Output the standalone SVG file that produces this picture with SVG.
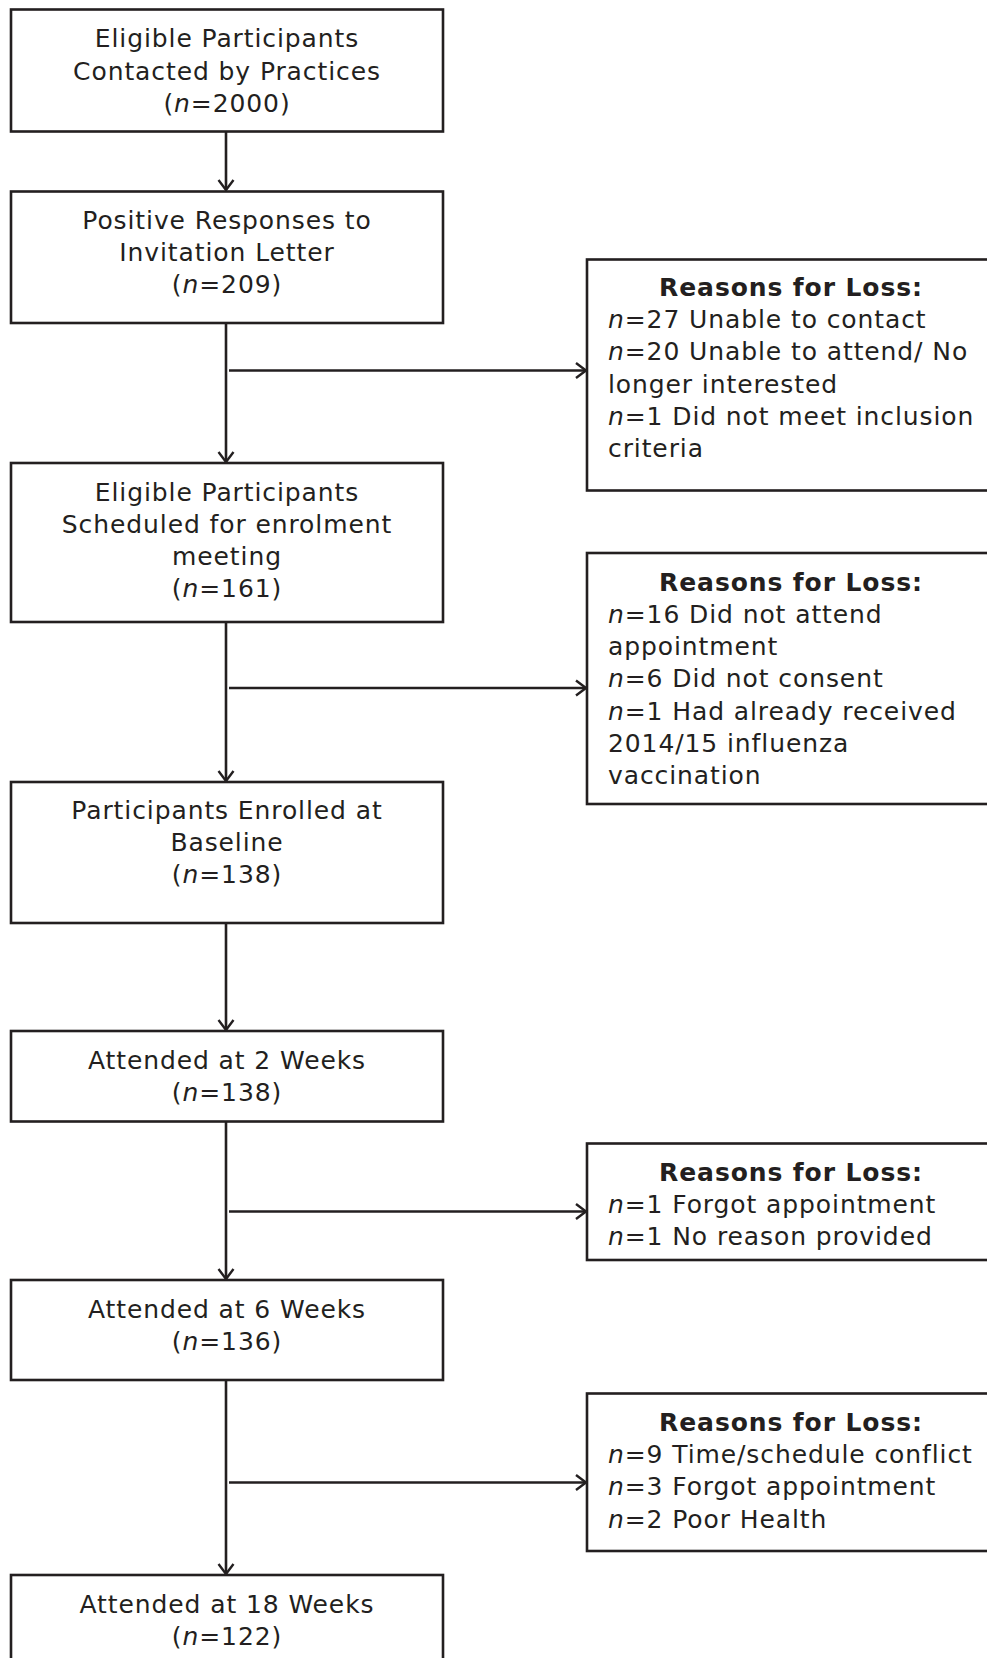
<svg xmlns="http://www.w3.org/2000/svg" width="987" height="1658" viewBox="0 0 987 1658">
<style>
.box{fill:#fff;stroke:#231f20;stroke-width:2.6}
.t{font-family:"DejaVu Sans",Verdana,sans-serif;font-size:25px;letter-spacing:0.9px;fill:#231f20}
.c{text-anchor:middle}
.b{font-weight:bold}
.i{font-style:italic}
.ln{stroke:#231f20;stroke-width:2.6;fill:none}
</style>
<defs>
<marker id="ah" markerUnits="userSpaceOnUse" viewBox="-12 -9 14 18" refX="0" refY="0" markerWidth="14" markerHeight="18" orient="auto">
<path d="M-10,-7.5 L0,0 L-10,7.5" fill="none" stroke="#231f20" stroke-width="2.4"/>
</marker>
</defs>
<rect width="987" height="1658" fill="#fff"/>
<g id="connectors">
<line class="ln" x1="226" y1="132" x2="226" y2="190" marker-end="url(#ah)"/>
<line class="ln" x1="226" y1="323" x2="226" y2="462" marker-end="url(#ah)"/>
<line class="ln" x1="226" y1="622" x2="226" y2="781" marker-end="url(#ah)"/>
<line class="ln" x1="226" y1="923" x2="226" y2="1030" marker-end="url(#ah)"/>
<line class="ln" x1="226" y1="1121" x2="226" y2="1279" marker-end="url(#ah)"/>
<line class="ln" x1="226" y1="1380" x2="226" y2="1574" marker-end="url(#ah)"/>
<line class="ln" x1="229" y1="370.5" x2="586" y2="370.5" marker-end="url(#ah)"/>
<line class="ln" x1="229" y1="688" x2="586" y2="688" marker-end="url(#ah)"/>
<line class="ln" x1="229" y1="1211.5" x2="586" y2="1211.5" marker-end="url(#ah)"/>
<line class="ln" x1="229" y1="1482.5" x2="586" y2="1482.5" marker-end="url(#ah)"/>
</g>
<g id="n1">
<rect class="box" x="11" y="9.5" width="432" height="122"/>
<text class="t c" x="227" y="47">Eligible Participants</text>
<text class="t c" x="227" y="79.5">Contacted by Practices</text>
<text class="t c" x="227" y="111.5">(<tspan class="i">n</tspan>=2000)</text>
</g>
<g id="n2">
<rect class="box" x="11" y="191.5" width="432" height="131.5"/>
<text class="t c" x="227" y="229">Positive Responses to</text>
<text class="t c" x="227" y="261">Invitation Letter</text>
<text class="t c" x="227" y="293">(<tspan class="i">n</tspan>=209)</text>
</g>
<g id="r1">
<rect class="box" x="587" y="259.5" width="420" height="231"/>
<text class="t c b" x="791" y="295.7">Reasons for Loss:</text>
<text class="t" x="608" y="328"><tspan class="i">n</tspan>=27 Unable to contact</text>
<text class="t" x="608" y="360.3"><tspan class="i">n</tspan>=20 Unable to attend/ No</text>
<text class="t" x="608" y="392.5">longer interested</text>
<text class="t" x="608" y="424.8"><tspan class="i">n</tspan>=1 Did not meet inclusion</text>
<text class="t" x="608" y="457">criteria</text>
</g>
<g id="n3">
<rect class="box" x="11" y="463" width="432" height="159"/>
<text class="t c" x="227" y="500.7">Eligible Participants</text>
<text class="t c" x="227" y="532.9">Scheduled for enrolment</text>
<text class="t c" x="227" y="565.1">meeting</text>
<text class="t c" x="227" y="597.3">(<tspan class="i">n</tspan>=161)</text>
</g>
<g id="r2">
<rect class="box" x="587" y="553" width="420" height="251"/>
<text class="t c b" x="791" y="590.7">Reasons for Loss:</text>
<text class="t" x="608" y="622.9"><tspan class="i">n</tspan>=16 Did not attend</text>
<text class="t" x="608" y="655.1">appointment</text>
<text class="t" x="608" y="687.3"><tspan class="i">n</tspan>=6 Did not consent</text>
<text class="t" x="608" y="719.5"><tspan class="i">n</tspan>=1 Had already received</text>
<text class="t" x="608" y="751.7">2014/15 influenza</text>
<text class="t" x="608" y="783.9">vaccination</text>
</g>
<g id="n4">
<rect class="box" x="11" y="782" width="432" height="141"/>
<text class="t c" x="227" y="819.3">Participants Enrolled at</text>
<text class="t c" x="227" y="851.3">Baseline</text>
<text class="t c" x="227" y="883.3">(<tspan class="i">n</tspan>=138)</text>
</g>
<g id="n5">
<rect class="box" x="11" y="1031" width="432" height="90.5"/>
<text class="t c" x="227" y="1069">Attended at 2 Weeks</text>
<text class="t c" x="227" y="1101">(<tspan class="i">n</tspan>=138)</text>
</g>
<g id="r3">
<rect class="box" x="587" y="1143.5" width="420" height="116.5"/>
<text class="t c b" x="791" y="1180.7">Reasons for Loss:</text>
<text class="t" x="608" y="1213"><tspan class="i">n</tspan>=1 Forgot appointment</text>
<text class="t" x="608" y="1245.3"><tspan class="i">n</tspan>=1 No reason provided</text>
</g>
<g id="n6">
<rect class="box" x="11" y="1280" width="432" height="100"/>
<text class="t c" x="227" y="1317.6">Attended at 6 Weeks</text>
<text class="t c" x="227" y="1349.8">(<tspan class="i">n</tspan>=136)</text>
</g>
<g id="r4">
<rect class="box" x="587" y="1393.5" width="420" height="157.5"/>
<text class="t c b" x="791" y="1430.7">Reasons for Loss:</text>
<text class="t" x="608" y="1463"><tspan class="i">n</tspan>=9 Time/schedule conflict</text>
<text class="t" x="608" y="1495.3"><tspan class="i">n</tspan>=3 Forgot appointment</text>
<text class="t" x="608" y="1527.5"><tspan class="i">n</tspan>=2 Poor Health</text>
</g>
<g id="n7">
<rect class="box" x="11" y="1575" width="432" height="100"/>
<text class="t c" x="227" y="1612.8">Attended at 18 Weeks</text>
<text class="t c" x="227" y="1644.8">(<tspan class="i">n</tspan>=122)</text>
</g>
</svg>
